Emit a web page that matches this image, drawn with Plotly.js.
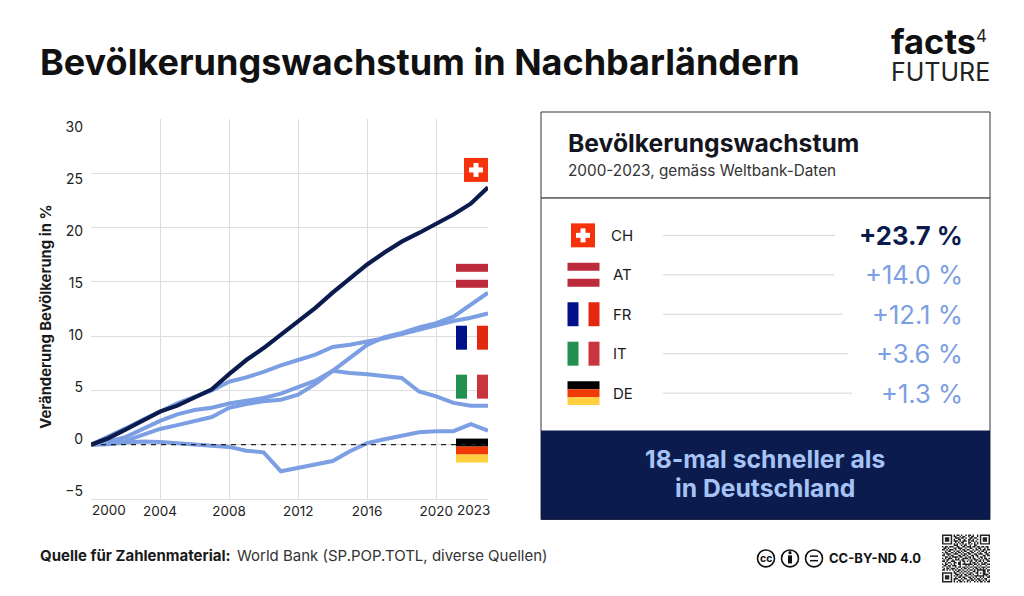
<!DOCTYPE html>
<html>
<head>
<meta charset="utf-8">
<script src="https://cdn.plot.ly/plotly-3.0.1.min.js"></script>
<style>html,body{margin:0;padding:0;background:#fff}</style>
</head>
<body>
<div id="chart" style="width:1024px;height:596px"></div>
<script>
const years = [2000,2001,2002,2003,2004,2005,2006,2007,2008,2009,2010,2011,2012,2013,2014,2015,2016,2017,2018,2019,2020,2021,2022,2023];
const ch = [0,0.6,1.4,2.25,3.05,3.6,4.3,5.1,6.5,7.8,8.9,10.1,11.3,12.6,14.0,15.3,16.6,17.7,18.7,19.5,20.3,21.2,22.2,23.7];
const at = [0,0.1,0.35,0.9,1.45,1.8,2.15,2.55,3.4,3.75,4.0,4.15,4.6,5.6,6.8,8.0,9.2,9.9,10.3,10.8,11.2,11.8,12.9,14.0];
const fr = [0,0.7,1.5,2.3,3.1,3.8,4.4,5.0,5.8,6.2,6.7,7.3,7.8,8.3,9.0,9.2,9.5,9.8,10.2,10.6,11.0,11.4,11.7,12.1];
const it = [0,0.3,0.7,1.45,2.2,2.8,3.2,3.4,3.8,4.05,4.3,4.7,5.3,5.9,6.8,6.6,6.5,6.3,6.15,4.9,4.45,3.85,3.6,3.6];
const de = [0,0.05,0.2,0.3,0.25,0.15,0.05,-0.05,-0.2,-0.55,-0.7,-2.45,-2.15,-1.85,-1.5,-0.6,0.15,0.5,0.85,1.15,1.25,1.25,1.9,1.3];

const xGridYears = [2000,2004,2008,2012,2016,2020];
const xTickText = ["","2004","2008","2012","2016","2020"];
const yTicks = [-5,0,5,10,15,20,25,30];

const codes = ["CH","AT","FR","IT","DE"];
const growth = ["+23.7 %","+14.0 %","+12.1 %","+3.6 %","+1.3 %"];

const NAVY = "#0b1b4d";
const BLUE = "#7c9fe4";
const FONT = "Inter, 'Noto Sans', sans-serif";

// page pixels -> paper coords, plot area is x 91-488, y 119-499.5
const W = 397, H = 380.5;
const px = (x) => (x - 91) / W;
const py = (y) => (499.5 - y) / H;

const shapes = [];
const annotations = [];

function rect(x0, y0, x1, y1, fill, line) {
  shapes.push({
    type: "rect", xref: "paper", yref: "paper", layer: "above",
    x0: px(x0), x1: px(x1), y0: py(y0), y1: py(y1),
    fillcolor: fill, line: line || { width: 0 },
  });
}

function label(x, y, text, size, opts = {}) {
  const anchor = opts.anchor || "left";
  // annotations carry about 2px of padding
  const nudge = anchor === "left" ? -2 : anchor === "right" ? 2 : 0;
  annotations.push({
    xref: "paper", yref: "paper", x: px(x + nudge), y: py(y), text,
    showarrow: false, xanchor: anchor, yanchor: "middle", align: anchor,
    font: { family: FONT, size, color: opts.color || "#1a1a1a", weight: opts.weight || 400 },
  });
}

function flag(code, cx, top) {
  if (code === "CH") {
    rect(cx - 12, top, cx + 12, top + 24, "#f5320c");
    rect(cx - 7, top + 9.5, cx + 7, top + 14.5, "#fff");
    rect(cx - 2.5, top + 5, cx + 2.5, top + 19, "#fff");
  } else if (code === "AT") {
    rect(cx - 16, top, cx + 16, top + 8, "#bd2a3c");
    rect(cx - 16, top + 16, cx + 16, top + 24, "#bd2a3c");
  } else if (code === "FR") {
    rect(cx - 16, top, cx - 5, top + 24, "#00108a");
    rect(cx + 5, top, cx + 16, top + 24, "#e2280f");
  } else if (code === "IT") {
    rect(cx - 16, top, cx - 5, top + 24, "#22914f");
    rect(cx + 5, top, cx + 16, top + 24, "#c9353f");
  } else {
    rect(cx - 16, top, cx + 16, top + 8, "#000");
    rect(cx - 16, top + 8, cx + 16, top + 16, "#f03a06");
    rect(cx - 16, top + 16, cx + 16, top + 24, "#ffcf3f");
  }
}

// flags beside the lines
flag("CH", 476, 158);
flag("AT", 472, 264);
flag("FR", 472, 326);
flag("IT", 472, 375);
flag("DE", 472, 439);

// zero line
shapes.push({
  type: "line", xref: "x", yref: "y", layer: "above",
  x0: 2000, x1: 2023, y0: 0, y1: 0,
  line: { color: "#222", width: 1.3, dash: "5px,5px" },
});

// right panel
rect(541, 112, 990, 520, "rgba(0,0,0,0)", { color: "#333", width: 1 });
rect(541, 198, 990, 198.1, "#333", { color: "#555", width: 1 });
rect(541, 431, 990, 520, NAVY);
label(568, 143, "Bevölkerungswachstum", 24.7, { weight: 700, color: "#15151f" });
label(568, 171, "2000-2023, gemäss Weltbank-Daten", 15.3, { color: "#333" });

const rowY = [235.5, 275, 314.5, 354, 393.5];
const rowFlagCx = [583, 583.5, 583.5, 583.5, 583.5];
const rowFlagTop = [223.5, 263, 302.5, 342, 381.5];
const rowCodeX = [611, 613, 613, 613, 613];
const leaderEnd = [835, 834, 843, 848, 852];
codes.forEach((c, i) => {
  flag(c, rowFlagCx[i], rowFlagTop[i]);
  label(rowCodeX[i], rowY[i], c, 15);
  shapes.push({
    type: "line", xref: "paper", yref: "paper", layer: "above",
    x0: px(663), x1: px(leaderEnd[i]), y0: py(rowY[i]), y1: py(rowY[i]),
    line: { color: "#d5d5d8", width: 1 },
  });
  label(963, rowY[i], growth[i], 25.6, {
    anchor: "right",
    weight: i === 0 ? 700 : 400,
    color: i === 0 ? NAVY : BLUE,
  });
});
label(765, 459, "18-mal schneller als", 24.7, { anchor: "center", weight: 700, color: "#a6c3f5" });
label(765, 488, "in Deutschland", 24.7, { anchor: "center", weight: 700, color: "#a6c3f5" });

// heading and logo, both logo lines in one text so they can sit tight
label(40, 62, "Bevölkerungswachstum in Nachbarländern", 36, { weight: 700, color: "#111" });
label(891, 53.7, '<span style="font-size:34.5px;font-weight:700;fill:#111">facts</span><br><span style="font-size:25px">FUTURE</span>', 21, { color: "#222" });
label(976, 36, "4", 17, { color: "#222" });

// source
label(40, 556, "Quelle für Zahlenmaterial:", 15, { weight: 700, color: "#1a1a1a" });
label(237, 556, "World Bank (SP.POP.TOTL, diverse Quellen)", 15, { color: "#333" });

// y axis title sits off centre of the plot, so it is placed by hand
annotations.push({
  xref: "paper", yref: "paper", x: px(46), y: py(317), textangle: -90,
  text: "Veränderung Bevölkerung in %", showarrow: false,
  xanchor: "center", yanchor: "middle",
  font: { family: FONT, size: 14.8, color: "#1a1a1a", weight: 700 },
});

// licence icons
[766, 790, 814].forEach((cx) => {
  shapes.push({
    type: "circle", xref: "paper", yref: "paper", layer: "above",
    x0: px(cx - 8.5), x1: px(cx + 8.5), y0: py(559 - 8.5), y1: py(559 + 8.5),
    line: { color: "#111", width: 1.6 }, fillcolor: "#fff",
  });
});
label(766, 559, "cc", 10.5, { anchor: "center", weight: 700, color: "#111" });
rect(788, 556, 792, 564, "#111");
shapes.push({
  type: "circle", xref: "paper", yref: "paper", layer: "above",
  x0: px(788.4), x1: px(791.6), y0: py(551.6), y1: py(554.8), fillcolor: "#111", line: { width: 0 },
});
rect(810, 556, 818, 557.5, "#111");
rect(810, 560.5, 818, 562, "#111");
label(829, 559, "CC-BY-ND 4.0", 13, { weight: 700, color: "#111" });

// qr code block
const qrRows = [
  "111111101011010010110100101111111",
  "100000101100101100101100101000001",
  "101110100111011010011011001011101",
  "101110101001100100110100101011101",
  "101110101110101110101101001011101",
  "100000100101011000110010101000001",
  "111111101010101010101010101111111",
  "000000001110010110010011000000000",
  "101101110011001101110110110110110",
  "011010001101110010011001011001010",
  "110101110100101101100101101011011",
  "001011001011010110011010010110100",
  "101100110101101001101100101001101",
  "010111001110010110110011011100110",
  "110010110001101101001101100011011",
  "001101011110110010110100101101000",
  "101011100101001111010110010101101",
  "010110010111011000101011101010110",
  "110100111000101101011001011010011",
  "001011001101100100010110100101100",
  "101100101001101111111011010111011",
  "011011011100100010100100101000100",
  "100101000101101101011011010111011",
  "010110111010010110100101101010100",
  "110101010101101001011010111111011",
  "000000001011010110100110100011010",
  "111111101100101001011001101011001",
  "100000100111010110110100100011110",
  "101110101010110011001011111110101",
  "101110100101101100110101001010011",
  "101110101110010110011010110101100",
  "100000101001101001101101011010101",
  "111111101010110101010010101101011",
];
const qrCell = 48 / qrRows.length;
let qrPath = "";
qrRows.forEach((row, r) => {
  [...row].forEach((v, c) => {
    if (v !== "1") return;
    const x0 = px(942 + c * qrCell), x1 = px(942 + (c + 1) * qrCell);
    const y0 = py(535 + r * qrCell), y1 = py(535 + (r + 1) * qrCell);
    qrPath += `M${x0},${y0}L${x1},${y0}L${x1},${y1}L${x0},${y1}Z`;
  });
});
shapes.push({ type: "path", xref: "paper", yref: "paper", path: qrPath, fillcolor: "#222", line: { width: 0 }, layer: "above" });

function lineTrace(name, values, color, width) {
  return {
    type: "scatter", mode: "lines", name, x: years, y: values,
    line: { color, width }, cliponaxis: false, hoverinfo: "x+y+name",
  };
}

const data = [
  lineTrace("DE", de, BLUE, 4),
  lineTrace("IT", it, BLUE, 4),
  lineTrace("AT", at, BLUE, 4),
  lineTrace("FR", fr, BLUE, 4),
  lineTrace("CH", ch, NAVY, 4.2),
  // carries the value labels, which sit a little off the grid in the original
  { type: "scatter", mode: "none", x: [2000], y: [0], yaxis: "y2", hoverinfo: "skip", showlegend: false },
];

annotations.push(
  { xref: "x", yref: "paper", x: 2000, xshift: 18, y: py(510.5), yanchor: "middle", showarrow: false, text: "2000", font: { family: FONT, size: 13.5, color: "#222" } },
  { xref: "x", yref: "paper", x: 2023, xshift: -15, y: py(510.5), yanchor: "middle", showarrow: false, text: "2023", font: { family: FONT, size: 13.5, color: "#222" } }
);

const layout = {
  width: 1024,
  height: 596,
  autosize: false,
  showlegend: false,
  margin: { l: 91, r: 536, t: 119, b: 96.5, pad: 0 },
  paper_bgcolor: "#fff",
  plot_bgcolor: "#fff",
  xaxis: {
    range: [2000, 2023],
    tickmode: "array",
    tickvals: xGridYears,
    ticktext: xTickText,
    tickfont: { family: FONT, size: 13.5, color: "#222" },
    gridcolor: "#dddde0",
    gridwidth: 1.2,
    zeroline: false,
    showline: true,
    linecolor: "#dddde0",
    linewidth: 1.2,
    ticks: "",
    ticklabelstandoff: 0,
  },
  yaxis: {
    range: [-5, 30],
    tickmode: "array",
    tickvals: yTicks,
    showticklabels: false,
    gridcolor: "#dddde0",
    gridwidth: 1.2,
    zeroline: false,
    ticks: "",
  },
  yaxis2: {
    overlaying: "y",
    side: "left",
    range: [-5.715, 30.77],
    tickmode: "array",
    tickvals: yTicks,
    showgrid: false,
    zeroline: false,
    showline: false,
    ticks: "",
    ticklabelstandoff: 7,
    tickfont: { family: FONT, size: 14, color: "#222" },
  },
  shapes,
  annotations,
};

Plotly.newPlot("chart", data, layout, { displayModeBar: false, responsive: false });
</script>
</body>
</html>
